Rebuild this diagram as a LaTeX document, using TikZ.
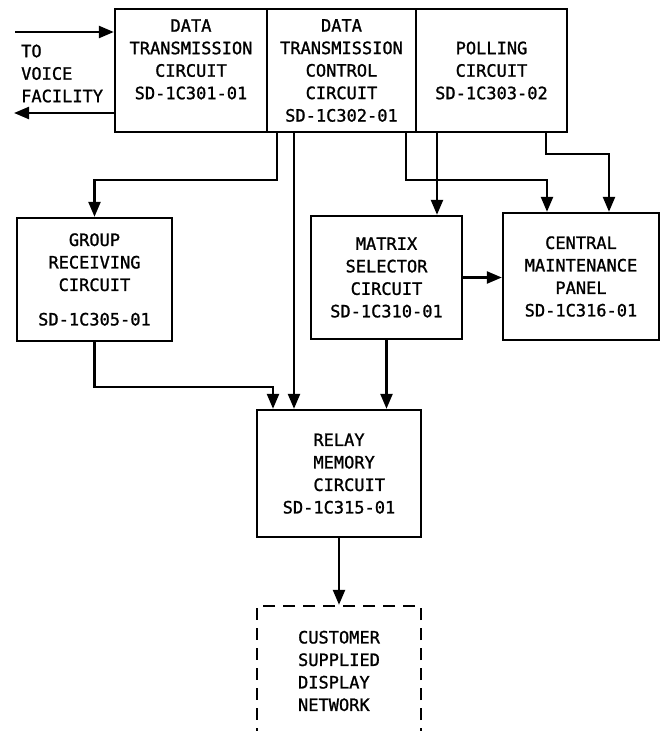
\documentclass[tikz,border=0pt]{standalone}
\usepackage{fontspec}
\newfontfamily\letterfont[FakeBold=1.2]{DejaVu Sans Mono}
\usetikzlibrary{arrows.meta}

\begin{document}
\begin{tikzpicture}[x=1pt,y=-1pt,
        blk/.style={draw, line width=2.4pt, inner sep=0pt, align=center,
            font={\letterfont\fontsize{17}{22.5}\selectfont}},
        arr/.style={line width=2.4pt, -{Triangle[length=15pt,width=12pt]}}]
        % Frame
        \useasboundingbox (0,0) rectangle (664,731);
        \clip (0,0) rectangle (664,731);

        % Top row
        \node[blk, minimum width=152pt, minimum height=123pt] (dtc) at (191,70.5) {DATA\\TRANSMISSION\\CIRCUIT\\SD-1C301-01\\\mbox{}};
        \node[blk, minimum width=149pt, minimum height=123pt] (dtcc) at (341.5,70.5) {DATA\\TRANSMISSION\\CONTROL\\CIRCUIT\\SD-1C302-01};
        \node[blk, minimum width=151pt, minimum height=123pt] (poll) at (491.5,70.5) {POLLING\\CIRCUIT\\SD-1C303-02};
        \node[blk, draw=none, anchor=west, align=left] (tvf) at (20,73.5) {TO\\VOICE\\FACILITY};

        % Middle row
        \node[blk, minimum width=155pt, minimum height=123pt] (grc) at (94.5,279.5) {GROUP\\RECEIVING\\CIRCUIT\\[12pt]SD-1C305-01};
        \node[blk, minimum width=151pt, minimum height=123pt] (msc) at (386.5,277.5) {MATRIX\\SELECTOR\\CIRCUIT\\SD-1C310-01};
        \node[blk, minimum width=156pt, minimum height=127pt] (cmp) at (581,276.5) {CENTRAL\\MAINTENANCE\\PANEL\\SD-1C316-01};

        % Bottom
        \node[blk, align=left, minimum width=164pt, minimum height=127pt] (rmc) at (339,473.5) {\phantom{SD-}RELAY\\\phantom{SD-}MEMORY\\\phantom{SD-}CIRCUIT\\SD-1C315-01};
        \node[blk, align=left, dash pattern=on 12pt off 8pt, minimum width=164pt, minimum height=130pt] (csn) at (339,671) {CUSTOMER\\SUPPLIED\\DISPLAY\\NETWORK};

        % Voice facility lines
        \coordinate (vin) at (15,32);
        \coordinate (vout) at (14,113);
        \draw[arr] (vin) -- (vin -| dtc.west);
        \draw[arr] (vout -| dtc.west) -- (vout);

        % Bends
        \coordinate (j1) at (277,180);
        \coordinate (j2) at (294,300);
        \coordinate (j3) at (406,180);
        \coordinate (j4) at (547,180);
        \coordinate (j5) at (437,180);
        \coordinate (j6) at (546,154);
        \coordinate (j7) at (609,154);
        \coordinate (j8) at (273,387);

        % Connectors
        \draw[arr] (dtcc.south -| j1) -- (j1) -| (grc.north);
        \draw[arr] (dtcc.south -| j2) -- (rmc.north -| j2);
        \draw[arr] (dtcc.south -| j3) -- (j3) -- (j4) -- (cmp.north -| j4);
        \draw[arr] (poll.south -| j5) -- (msc.north -| j5);
        \draw[arr] (poll.south -| j6) -- (j6) -- (j7) -- (cmp.north -| j7);
        \draw[arr] (msc.east) -- (msc.east -| cmp.west);
        \draw[arr] (grc.south) |- (j8) -- (rmc.north -| j8);
        \draw[arr] (msc.south) -- (rmc.north -| msc.south);
        \draw[arr] (rmc.south) -- (csn.north);
    \end{tikzpicture}
\end{document}
